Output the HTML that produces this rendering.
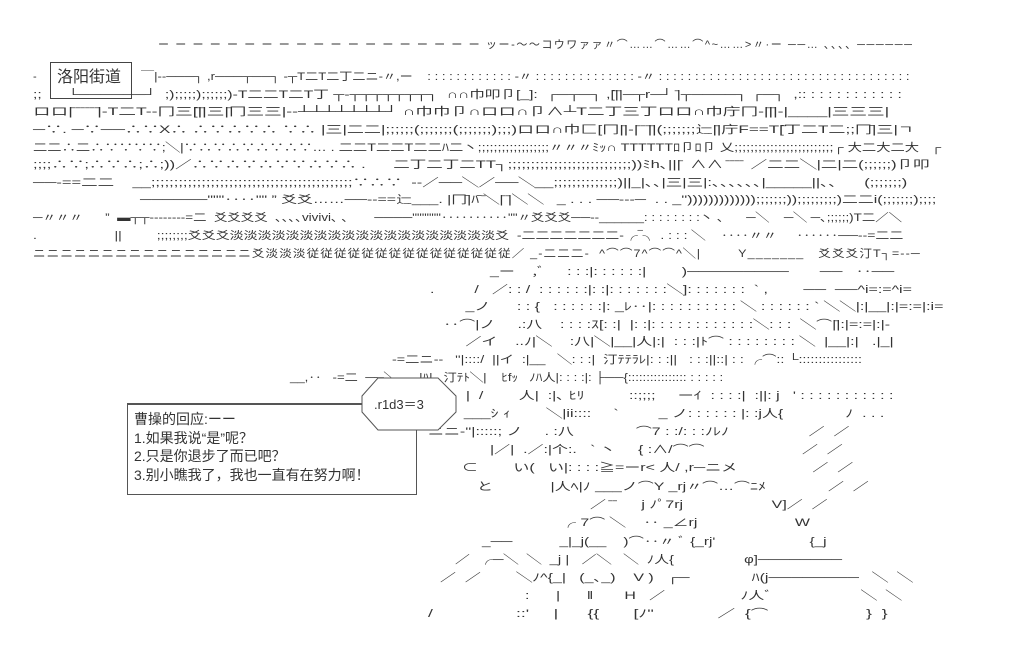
<!DOCTYPE html>
<html><head><meta charset="utf-8"><style>
body{margin:0;width:1025px;height:658px;background:#fff;position:relative;overflow:hidden}
.t{position:absolute;white-space:pre;font:11px/1 "Liberation Sans","Noto Sans CJK SC",sans-serif;color:#333;transform-origin:0 0}
.b{position:absolute;border:1px solid #444}
.h{position:absolute;height:0;border-top:2px solid #333}
.cj{font:15px/1 "Liberation Sans","Noto Sans CJK SC",sans-serif;color:#333;position:absolute;white-space:pre}
.L{transform:scaleX(1.45)}
</style></head><body>
<div class="b" style="left:50px;top:62px;width:80px;height:35px"></div>
<div class="cj" style="left:57px;top:70px;font-size:16px">洛阳街道</div>
<div class="t" style="left:33px;top:72px">-</div>
<div class="t" style="left:158px;top:40px;letter-spacing:1.6px">ー ー ー ー ー ー ー ー ー ー ー ー ー ー ー ー ー ー ー ッー-～～コウワァァ〃⌒……⌒……⌒^~……&gt;〃·ー ──… ､､､､ ──────</div>
<div class="t" style="left:141px;top:72px;transform:scaleX(1.19)">￣|--───┐ ,r───┬──┐ -┬T二T二丁二ニ-〃,ー    : : : : : : : : : : : : ‐〃 : : : : : : : : : : : : : : ‐〃 : : : : : : : : : : : : : : : : : : : : : : : : : : : : : : : : : : :</div>
<div class="t" style="left:33px;top:90px;transform:scaleX(1.42)">;;      └──────┘  ;);;;;;);;;;;;)-T二二T二T丁 ┬‐┬┬┬┬┬┬┬┐  ∩∩巾叩卩[_]:  ┌─┬─┐ ,[̄|̄|─┬r─┘ ̄|┬────┐ ┌─┐  ,:: : : : : : : : : : : :</div>
<div class="t" style="left:33px;top:107px;transform:scaleX(1.6)">ロロ|̄ ̄ ̄ ̄ ̄ ̄|-T二T--冂三[̄|̄|三|̄冂三三|--┴┴┴┴┴┴┴┘ ∩巾巾卩∩ロロ∩卩∧┴T二丁三丁ロロ∩巾庁冂-|̄|̄|-|____|三三三|</div>
<div class="t" style="left:33px;top:125px;transform:scaleX(1.55)">─∵. ─∵──∴∵X∴ ∴∵∴∵∴ ∵∴ |三|二二|;;;;;;(;;;;;;;(;;;;;;;);;;)ロロ∩巾匚[冂|̄|-|̄ ̄ ̄|̄|(;;;;;;;辷|̄|庁F==T[̄丁二T二;;冂̄|三|ㄱ</div>
<div class="t" style="left:33px;top:143px;transform:scaleX(1.3)">二二∴二∴∵∵∵∵;╲|∵∴∵∴∵∴∵∴∵… . 二二T二二T二二ﾊ二丶;;;;;;;;;;;;;;;;;;〃〃〃ﾐｯ∩ TTTTTTﾛ卩ﾛ卩 乂;;;;;;;;;;;;;;;;;;;;;;;;;┌ 大二大二大   ┌</div>
<div class="t" style="left:33px;top:160px;transform:scaleX(1.5)">;;;;∴∵;∴∵∴;∴;))／∴∵∴∵∴∵∵∴∵∴ .      二丁二丁二TT┐;;;;;;;;;;;;;;;;;;;;;;;;;;;))ﾐh､|||̄  ∧∧ ̄ ̄ ̄ ̄  ／二二╲|二|二(;;;;;;)卩叩</div>
<div class="t" style="left:33px;top:178px;transform:scaleX(1.5)">──-==二二    __;;;;;;;;;;;;;;;;;;;;;;;;;;;;;;;;;;;;;;;;;;;;∵∴∵  --／──╲／──╲__;;;;;;;;;;;;;;)||_|､､|三|三|:､､､､､､|_____||､､      (;;;;;;;)</div>
<div class="t" style="left:140px;top:195px;transform:scaleX(1.44)">──────"""‥‥"" ” 爻爻……──--==辷___. |冂̄|ﾊ̄ ̄╲|̄ ̄|╲╲   _ . . . ──---─  . . _'')))))))))))));;;;;;;));;;;;;;;;)二二i(;;;;;;;);;;;</div>
<div class="t" style="left:33px;top:213px;transform:scaleX(1.22)">─〃〃〃      ”  ▬┬┬--------=二  爻爻爻爻  ､､､､vivivi､ ､       ────""""""‥‥‥‥‥""〃爻爻爻──--______: : : : : : : :丶 ､      ─╲    ─╲ ─､;;;;;;)T二／＼</div>
<div class="t" style="left:33px;top:231px;transform:scaleX(1.27)">.                    ||         ;;;;;;;;爻爻爻淡淡淡淡淡淡淡淡淡淡淡淡淡淡淡淡淡淡淡爻  -二二二二二二二-╭‾╮ . : : : ╲    ‥‥〃〃     ‥‥‥──--=二二</div>
<div class="t" style="left:33px;top:249px;letter-spacing:1px;transform:scaleX(1.14)">ニニニニニニニニニニニニニニニニ爻淡淡淡従従従従従従従従従従従従従従従／ _-二二二-  ^⌒⌒7^⌒⌒^╲|        Y_______   爻爻爻汀T┐=--─</div>
<div class="t L" style="left:490px;top:267px">_ー    ,ﾞ     : : :|: : : : : :|        )─────────       ──   ‥──</div>
<div class="t L" style="left:430px;top:285px">.         /   ／: : /  : : : : : :|: :|: : : : : : :╲]: : : : : : :  ` ,        ──  ──^i=:=^i=</div>
<div class="t L" style="left:430px;top:302px">        _ノ      : : {   : : : : : :|: _ﾚ‥|: : : : : : : : : : ╲ : : : : : : ` ╲╲|:|__|:|=:=|:i=</div>
<div class="t L" style="left:430px;top:320px">   ‥⌒|ノ     .:八    : : : :ｽ[: :|  |: :|: : : : : : : : : : : :╲: : :  ╲⌒|̄|:|=:=|:|-</div>
<div class="t L" style="left:430px;top:337px">        ／イ    ..ﾉ|╲    :八|╲|__|人|:|  : : :|ﾄ⌒ : : : : : : : : ╲  |__|:|   .|_|</div>
<div class="t" style="left:392px;top:355px;transform:scaleX(1.3)">-=二ニ--   ''|::::/  ||イ  :|__   ╲: : :|  汀ﾃﾃﾗﾚ|: : :||   : : :||::| : : ╭⌒:: └::::::::::::::::</div>
<div class="t" style="left:290px;top:373px;transform:scaleX(1.2)">__,‥   -=二  ──╲      |ﾊ|   汀ﾃﾄ╲|    ﾋfｯ   ﾉﾊ人|: : : :|: ├──{:::::::::::::::: : : : : :</div>
<div class="t L" style="left:457px;top:391px">  |  /        人|  :|､ ﾋﾘ          ::;;;;     ーｲ  : : : :|  :||: j   ' : : : : : : : : : : :</div>
<div class="t L" style="left:455px;top:409px">  ___ｼ ｨ        ╲|ii::::     `         _ ノ: : : : : : |: :j人{              ﾉ  . . .</div>
<div class="t L" style="left:428px;top:427px">ニニ-''|:::::; ノ     . :八              ⌒7 : :/: : :ﾉﾚﾉ                  ／  ／</div>
<div class="t L" style="left:490px;top:445px">|／|  .／:|个:.   ` 丶     { :∧/⌒⌒                      ／  ／</div>
<div class="t L" style="left:462px;top:463px">⊂        い(   い|: : : :≧=ーr&lt; 人/ ,r─ニメ                 ／  ／</div>
<div class="t L" style="left:477px;top:482px">と             |人ﾍ|ﾉ ___ノ⌒Y _rj〃⌒…⌒ﾆﾒ              ／  ／</div>
<div class="t L" style="left:590px;top:500px">／ ̄ ̄      j ﾉﾟ7rj                    V]／  ／</div>
<div class="t L" style="left:560px;top:518px">╭ 7⌒ ╲    ‥ _∠rj                      W</div>
<div class="t" style="left:482px;top:537px;transform:scaleX(1.4)">_──           _|_j(__    )⌒‥〃 ﾞ {_rj'                      {_j</div>
<div class="t" style="left:455px;top:555px;transform:scaleX(1.35)">／  ╭─╲  ╲  _j |   ／╲   ╲  ﾉ人{                 φ]────────</div>
<div class="t L" style="left:440px;top:573px">／  ／        ╲ﾉ^{_|   (_､_)    V )   ┌─              ﾊ(j────────   ╲  ╲</div>
<div class="t L" style="left:525px;top:591px">:      |      ‖       H   ／                 ﾉ人ﾞ                    ╲  ╲</div>
<div class="t" style="left:428px;top:609px;transform:scaleX(1.6)">/                 ::'     |      {{       [ﾉ''             ／  {⌒                    }  }</div>
<div class="b" style="left:127px;top:404px;width:288px;height:89px;border-color:#555;background:#fff"></div>
<div class="h" style="left:127px;top:403px;width:236px;border-top:1px solid #555"></div>
<svg style="position:absolute;left:360px;top:376px" width="100" height="56"><polygon points="18,2 78,2 96,20 96,36 78,54 18,54 2,36 2,20" fill="#fff" stroke="#555" stroke-width="1"/><text x="14" y="33" font-family="Liberation Sans" font-size="13" fill="#333">.r1d3＝3</text></svg>
<div class="cj" style="left:134px;top:410px;font-size:14px;line-height:18.5px">曹操的回应:ーー
1.如果我说“是”呢？
2.只是你退步了而已吧？
3.别小瞧我了，我也一直有在努力啊！</div>
</body></html>
